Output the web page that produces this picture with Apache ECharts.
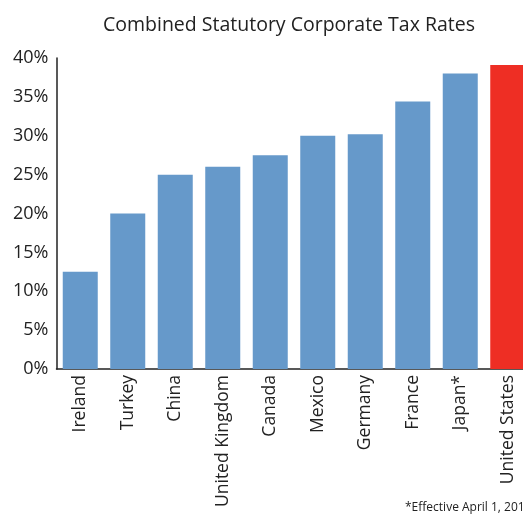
<!DOCTYPE html>
<html>
<head>
<meta charset="utf-8">
<script src="https://cdn.jsdelivr.net/npm/echarts@6/dist/echarts.min.js"></script>
<style>
  html, body { margin: 0; padding: 0; background: #fff; }
  #chart { width: 523px; height: 516px; }
</style>
</head>
<body>
<div id="chart"></div>
<script>
const countries = ['Ireland', 'Turkey', 'China', 'United Kingdom', 'Canada', 'Mexico', 'Germany', 'France', 'Japan*', 'United States'];
const taxRates = [12.5, 20, 25, 26, 27.5, 30, 30.2, 34.4, 38.0, 39.1];
const highlight = 'United States';

const blue = '#6699CA';
const red = '#EE2E24';
const font = 'Open Sans';

const myChart = echarts.init(document.getElementById('chart'));
const option = {
  animation: false,
  title: {
    text: 'Combined Statutory Corporate Tax Rates',
    left: 284,
    top: 10,
    textAlign: 'center',
    textStyle: { fontFamily: font, fontWeight: 'normal', fontSize: 19.5, color: '#222' },
  },
  grid: {
    left: 56.5,
    top: 58,
    width: 475,
    bottom: 147,
    containLabel: false,
    outerBoundsMode: 'none',
  },
  xAxis: {
    type: 'category',
    data: countries,
    axisLine: { lineStyle: { color: '#222', width: 1.5 } },
    axisTick: { show: false },
    axisLabel: {
      rotate: 90,
      interval: 0,
      margin: 6,
      fontFamily: font,
      fontSize: 17.5,
      color: '#222',
    },
  },
  yAxis: {
    type: 'value',
    min: 0,
    max: 40,
    interval: 5,
    axisLine: { show: true, lineStyle: { color: '#222', width: 1.5 } },
    axisTick: { show: false },
    splitLine: { show: false },
    axisLabel: {
      formatter: '{value}%',
      margin: 8,
      padding: [6, 0, 0, 0],
      fontFamily: font,
      fontSize: 18,
      color: '#222',
    },
  },
  series: [
    {
      type: 'bar',
      barWidth: 35,
      data: taxRates.map((v, i) => ({
        value: v,
        itemStyle: { color: countries[i] === highlight ? red : blue },
      })),
    },
  ],
  graphic: [
    {
      type: 'text',
      left: 405,
      top: 502,
      style: { text: '*Effective April 1, 201', fontFamily: font, fontSize: 12, fill: '#222' },
    },
  ],
};

option && myChart.setOption(option);
</script>
</body>
</html>
